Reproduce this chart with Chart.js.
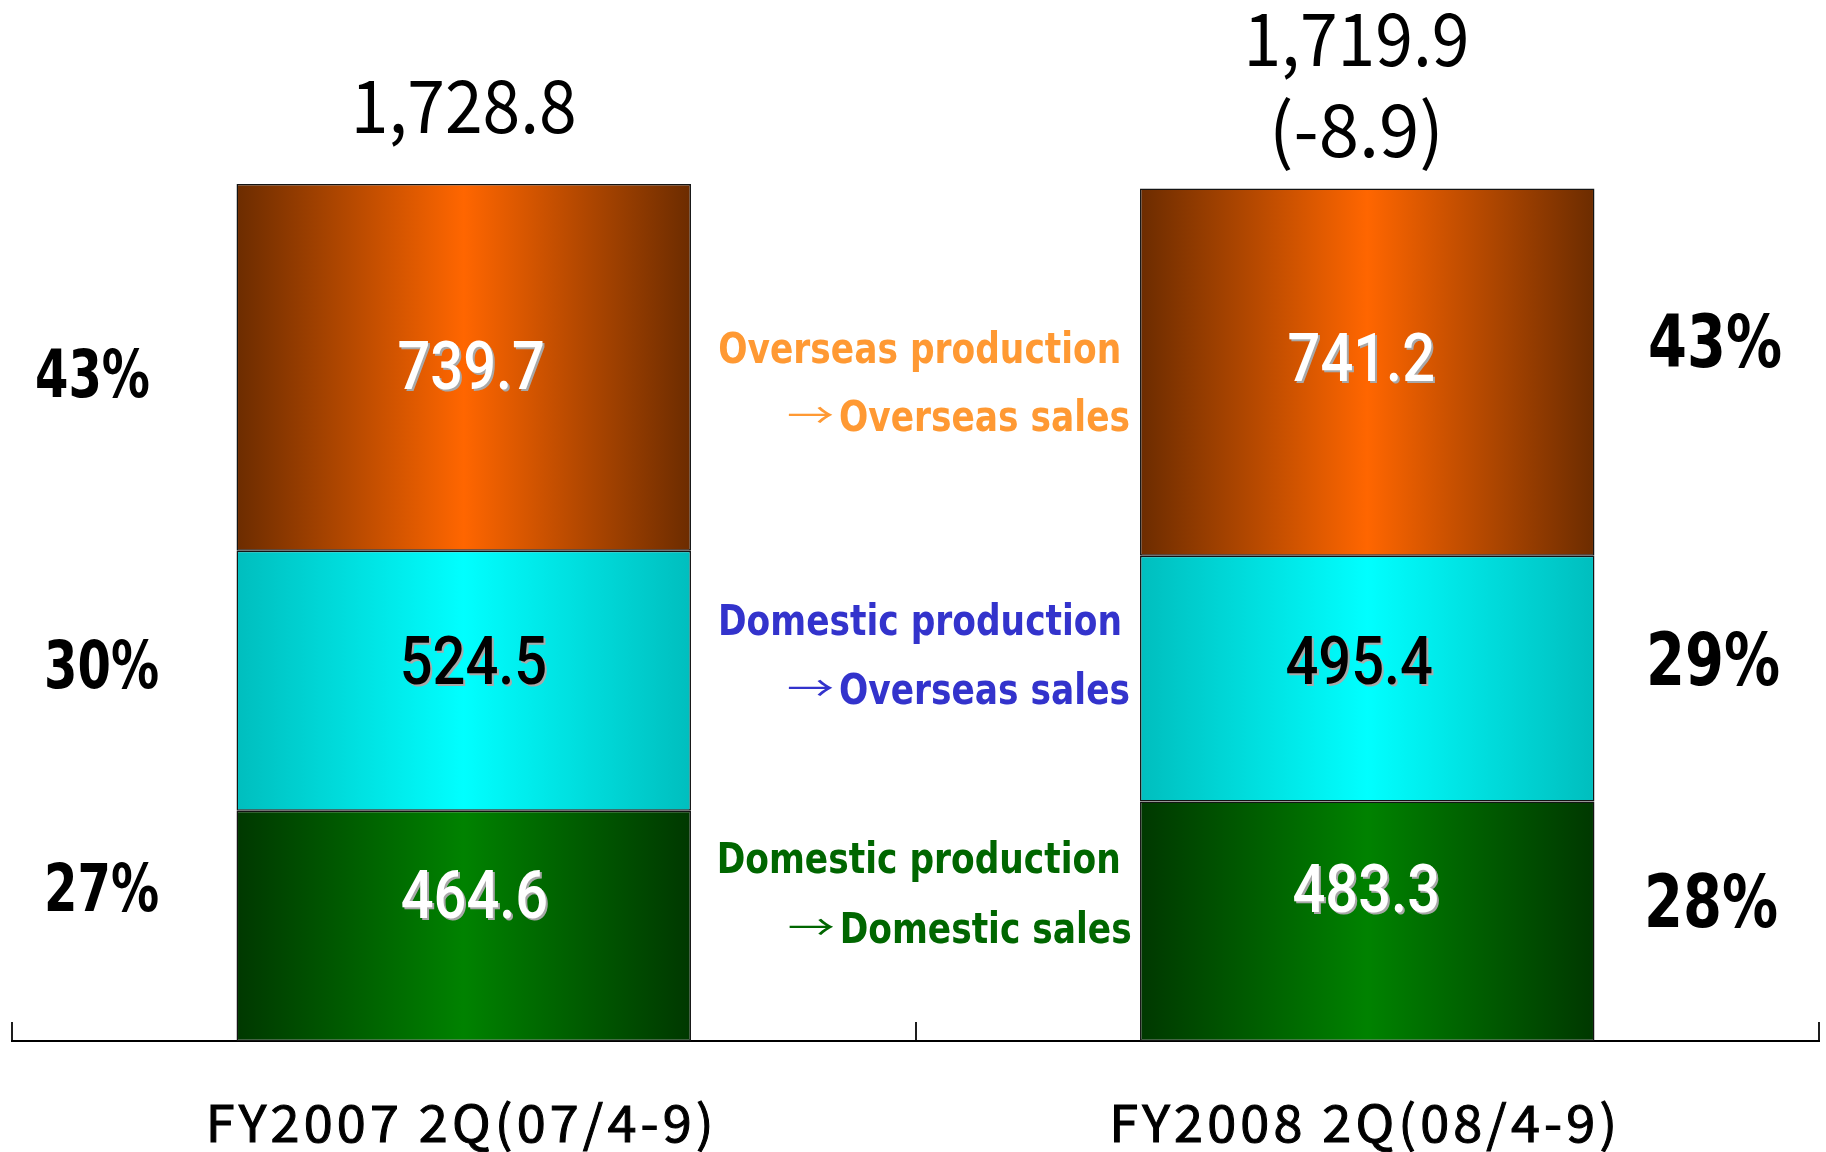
<!DOCTYPE html>
<html>
<head>
<meta charset="utf-8">
<script src="https://cdn.jsdelivr.net/npm/chart.js@4.4.1/dist/chart.umd.min.js"></script>
<style>
html,body{margin:0;padding:0;background:#ffffff;}
#wrap{width:1826px;height:1152px;position:relative;}
canvas{display:block;}
</style>
</head>
<body>
<div id="wrap"><canvas id="c" width="1826" height="1152"></canvas></div>
<script>
// ---------------- data ----------------
const categories = ['FY2007 2Q(07/4-9)', 'FY2008 2Q(08/4-9)'];
const seriesLabels = ['Domestic production→Domestic sales', 'Domestic production→Overseas sales', 'Overseas production→Overseas sales'];
const domesticToDomestic = [464.6, 483.3];
const domesticToOverseas = [524.5, 495.4];
const overseasToOverseas = [739.7, 741.2];
const totalLabels = ['1,728.8', '1,719.9'];
const changeLabels = ['', '(-8.9)'];
const shares2007 = ['27%', '30%', '43%'];
const shares2008 = ['28%', '29%', '43%'];
const flowLine1 = ['Domestic production', 'Domestic production', 'Overseas production'];
const flowLine2 = ['Domestic sales', 'Overseas sales', 'Overseas sales'];
const yMax = 2100;

// ---------------- styles / positions (chart units: x = category index, y = value) ----------------
const BAR_FRACTION = 0.503;
const gradStops = [
  ['#003800', '#008200'],
  ['#00bebe', '#00ffff'],
  ['#6c2c00', '#ff6600']
];
const flowColors = ['#006600', '#3333cc', '#ff9933'];
const valueTextColors = ['#ffffff', '#000000', '#ffffff'];
const POS = {
  valueDx: [[0.0118, 0.0107, 0.0082], [-0.0011, -0.0089, -0.0066]],
  valueBase: [[248, 721, 1315], [261, 720, 1331]],
  totalX: [0, 0.988],
  totalBase: [1832, 1967.5],
  changeBase: 1783,
  shareLX: [-0.4009, -0.4009, -0.4109],
  shareLBase: [262.9, 712.7, 1298.9],
  shareRX: [1.3805, 1.3827, 1.3849],
  shareRBase: [229.0, 718.4, 1359.2],
  flowX1: [0.2800, 0.2814, 0.2817],
  flowX2: [0.7393, 0.7374, 0.7374],
  flowBase1: [338.5, 818.2, 1367.5],
  flowBase2: [198.3, 679.8, 1230.0]
};

function gradient(i) {
  return (ctx) => {
    const chart = ctx.chart;
    const stops = gradStops[i];
    if (!chart.chartArea || ctx.dataIndex === undefined) return stops[1];
    const xs = chart.scales.x;
    const cx = xs.getPixelForValue(ctx.dataIndex);
    const half = xs.width / categories.length * BAR_FRACTION / 2;
    const g = chart.ctx.createLinearGradient(cx - half, 0, cx + half, 0);
    g.addColorStop(0, stops[0]);
    g.addColorStop(0.5, stops[1]);
    g.addColorStop(1, stops[0]);
    return g;
  };
}

function drawText(c, text, x, y, o) {
  c.save();
  c.font = o.font;
  if (o.ls) c.letterSpacing = o.ls + 'px';
  let sx = o.sx || 1;
  const w = c.measureText(text).width;
  if (o.width) sx = o.width / w;
  c.translate(x, y);
  c.scale(sx, 1);
  c.textAlign = o.align || 'center';
  c.textBaseline = 'alphabetic';
  if (o.shadow) {
    c.fillStyle = o.shadow;
    c.fillText(text, 2 / sx, 2);
  }
  c.fillStyle = o.color || '#000';
  c.fillText(text, 0, 0);
  if (o.stroke) {
    c.strokeStyle = o.color || '#000';
    c.lineWidth = o.stroke;
    c.strokeText(text, 0, 0);
  }
  c.restore();
  return w * sx;
}

const annotations = {
  id: 'annotations',
  afterDraw(chart) {
    const c = chart.ctx;
    const xs = chart.scales.x, ys = chart.scales.y;
    const px = v => xs.getPixelForValue(v);
    const py = v => ys.getPixelForValue(v);

    // values inside segments
    chart.data.datasets.forEach((ds, s) => {
      ds.data.forEach((v, i) => {
        drawText(c, v.toFixed(1), px(i + POS.valueDx[i][s]), py(POS.valueBase[i][s]), {
          font: '500 67px Roboto', sx: 0.863, color: valueTextColors[s], shadow: '#a8a8a8'
        });
      });
    });

    // totals
    totalLabels.forEach((t, i) => {
      drawText(c, t, px(POS.totalX[i]), py(POS.totalBase[i]), {
        font: '400 73px "Noto Sans CJK JP"', width: 226, color: '#000'
      });
      if (changeLabels[i]) {
        drawText(c, changeLabels[i], px(POS.totalX[i]), py(POS.changeBase), {
          font: '400 73px "Noto Sans CJK JP"', width: 175, color: '#000'
        });
      }
    });

    // shares
    for (let s = 0; s < 3; s++) {
      drawText(c, shares2007[s], px(POS.shareLX[s]), py(POS.shareLBase[s]), {
        font: 'bold 65px "DejaVu Sans"', width: 115, color: '#000'
      });
      drawText(c, shares2008[s], px(POS.shareRX[s]), py(POS.shareRBase[s]), {
        font: 'bold 73px "DejaVu Sans"', width: 134, color: '#000'
      });
    }

    // flow descriptions
    for (let s = 0; s < 3; s++) {
      drawText(c, flowLine1[s], px(POS.flowX1[s]), py(POS.flowBase1[s]), {
        font: 'bold 42px "DejaVu Sans"', sx: 0.82, align: 'left', color: flowColors[s]
      });
      const rx = px(POS.flowX2[s]);
      const by = py(POS.flowBase2[s]);
      const w = drawText(c, flowLine2[s], rx, by, {
        font: 'bold 42px "DejaVu Sans"', sx: 0.82, align: 'right', color: flowColors[s]
      });
      drawText(c, '→', rx - w - 5, by - 3, {
        font: '400 34px "Noto Sans CJK JP"', align: 'right', width: 47, color: flowColors[s]
      });
    }

    // category labels under the axis, at the axis tick positions
    categories.forEach((lab, i) => {
      drawText(c, xs.getLabelForValue(i), xs.getPixelForTick(i) - 2, xs.top + 101, {
        font: '400 50px "Noto Sans CJK JP"', ls: 4, width: 512, stroke: 1, color: '#000'
      });
    });
  }
};

function make() {
  new Chart(document.getElementById('c'), {
    type: 'bar',
    data: {
      labels: categories,
      datasets: [
        { label: seriesLabels[0], data: domesticToDomestic, backgroundColor: gradient(0) },
        { label: seriesLabels[1], data: domesticToOverseas, backgroundColor: gradient(1) },
        { label: seriesLabels[2], data: overseasToOverseas, backgroundColor: gradient(2) }
      ].map(d => Object.assign(d, {
        borderColor: '#141414', borderWidth: 1.5, borderSkipped: false,
        categoryPercentage: 1.0, barPercentage: BAR_FRACTION
      }))
    },
    options: {
      responsive: false,
      devicePixelRatio: 1,
      animation: false,
      layout: { padding: { left: 12, right: 7, top: 0, bottom: 0 } },
      plugins: { legend: { display: false }, tooltip: { enabled: false } },
      scales: {
        x: {
          stacked: true,
          offset: true,
          grid: { display: true, drawOnChartArea: false, drawTicks: true, tickLength: -19, color: '#1e1e1e', lineWidth: 2, offset: true },
          border: { display: true, color: '#000', width: 2 },
          ticks: { display: false },
          afterFit: (scale) => { scale.height = 111; }
        },
        y: {
          stacked: true,
          display: false,
          min: 0,
          max: yMax
        }
      }
    },
    plugins: [annotations]
  });
}

const fontsToLoad = ['500 67px Roboto', '400 73px "Noto Sans CJK JP"', '400 50px "Noto Sans CJK JP"', 'bold 65px "DejaVu Sans"', 'bold 42px "DejaVu Sans"'];
Promise.all(fontsToLoad.map(f => document.fonts.load(f).catch(() => null))).then(make, make);
</script>
</body>
</html>
